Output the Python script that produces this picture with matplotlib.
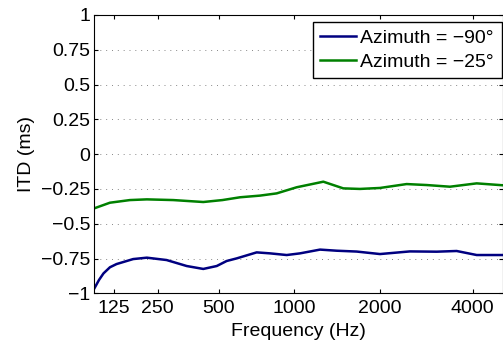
import numpy as np
import matplotlib.pyplot as plt

plt.rcParams['font.family'] = ['Liberation Sans', 'DejaVu Sans']
plt.rcParams['font.size'] = 14

# ITD (frequency in Hz, ITD in ms)
freq_90 = [80, 90, 100, 115, 131, 175, 215, 280, 356, 427, 491, 542, 598,
           720, 812, 939, 1052, 1242, 1422, 1666, 1998, 2511, 3068, 3556,
           4119, 5000]
itd_90 = [-0.964, -0.904, -0.857, -0.813, -0.79, -0.754, -0.744, -0.761,
          -0.804, -0.825, -0.804, -0.768, -0.749, -0.706, -0.713, -0.725,
          -0.713, -0.686, -0.694, -0.70, -0.718, -0.699, -0.701, -0.696,
          -0.725, -0.725]

freq_25 = [80, 115, 166, 215, 304, 427, 520, 617, 742, 861, 1023, 1276,
           1499, 1710, 1998, 2449, 2847, 3385, 4119, 5000]
itd_25 = [-0.389, -0.349, -0.33, -0.325, -0.33, -0.344, -0.33, -0.31,
          -0.298, -0.282, -0.238, -0.198, -0.246, -0.25, -0.243, -0.215,
          -0.222, -0.234, -0.21, -0.224]

xticks = [125, 250, 500, 1000, 2000, 4000]
yticks = [-1, -0.75, -0.5, -0.25, 0, 0.25, 0.5, 0.75, 1]
ylabels = ['\u22121', '\u22120.75', '\u22120.5', '\u22120.25', '0',
           '0.25', '0.5', '0.75', '1']


# ERB-rate frequency axis
def erb(f):
    return 21.4 * np.log10(1 + 0.00437 * np.asarray(f, dtype=float))


def erb_inv(e):
    return (10 ** (np.asarray(e, dtype=float) / 21.4) - 1) / 0.00437


fig = plt.figure(figsize=(5.03, 3.44), dpi=100)
ax = fig.add_axes([0.1877, 0.1474, 0.813, 0.809])
ax.set_xscale('function', functions=(erb, erb_inv))

ax.plot(freq_90, itd_90, color='#000080', lw=1.8, label='Azimuth = \u221290\u00b0')
ax.plot(freq_25, itd_25, color='#008000', lw=1.8, label='Azimuth = \u221225\u00b0')

ax.set_xlim(80, 5000)
ax.set_ylim(-1, 1)
ax.set_xticks(xticks)
ax.set_xticklabels([str(t) for t in xticks])
ax.xaxis.set_minor_locator(plt.NullLocator())
ax.set_yticks(yticks)
ax.set_yticklabels(ylabels)
ax.tick_params(direction='in', length=3, width=0.8, top=True, right=True,
               labelsize=14, pad=3)
ax.tick_params(axis='x', pad=4.5)
ax.yaxis.grid(True, linestyle=(0, (1, 5)), color='#888888', lw=0.7)
for s in ax.spines.values():
    s.set_linewidth(0.8)

ax.set_xlabel('Frequency (Hz)', labelpad=4.5)
ax.set_ylabel('ITD (ms)', labelpad=4)

leg = ax.legend(loc='upper right', bbox_to_anchor=(0.996, 0.976),
                borderaxespad=0, fancybox=False, framealpha=1,
                edgecolor='black', handlelength=1.85, handletextpad=0.2,
                borderpad=0.4, labelspacing=0.3, fontsize=14)
leg.get_frame().set_linewidth(1.0)

fig.savefig('out.png', dpi=100)
